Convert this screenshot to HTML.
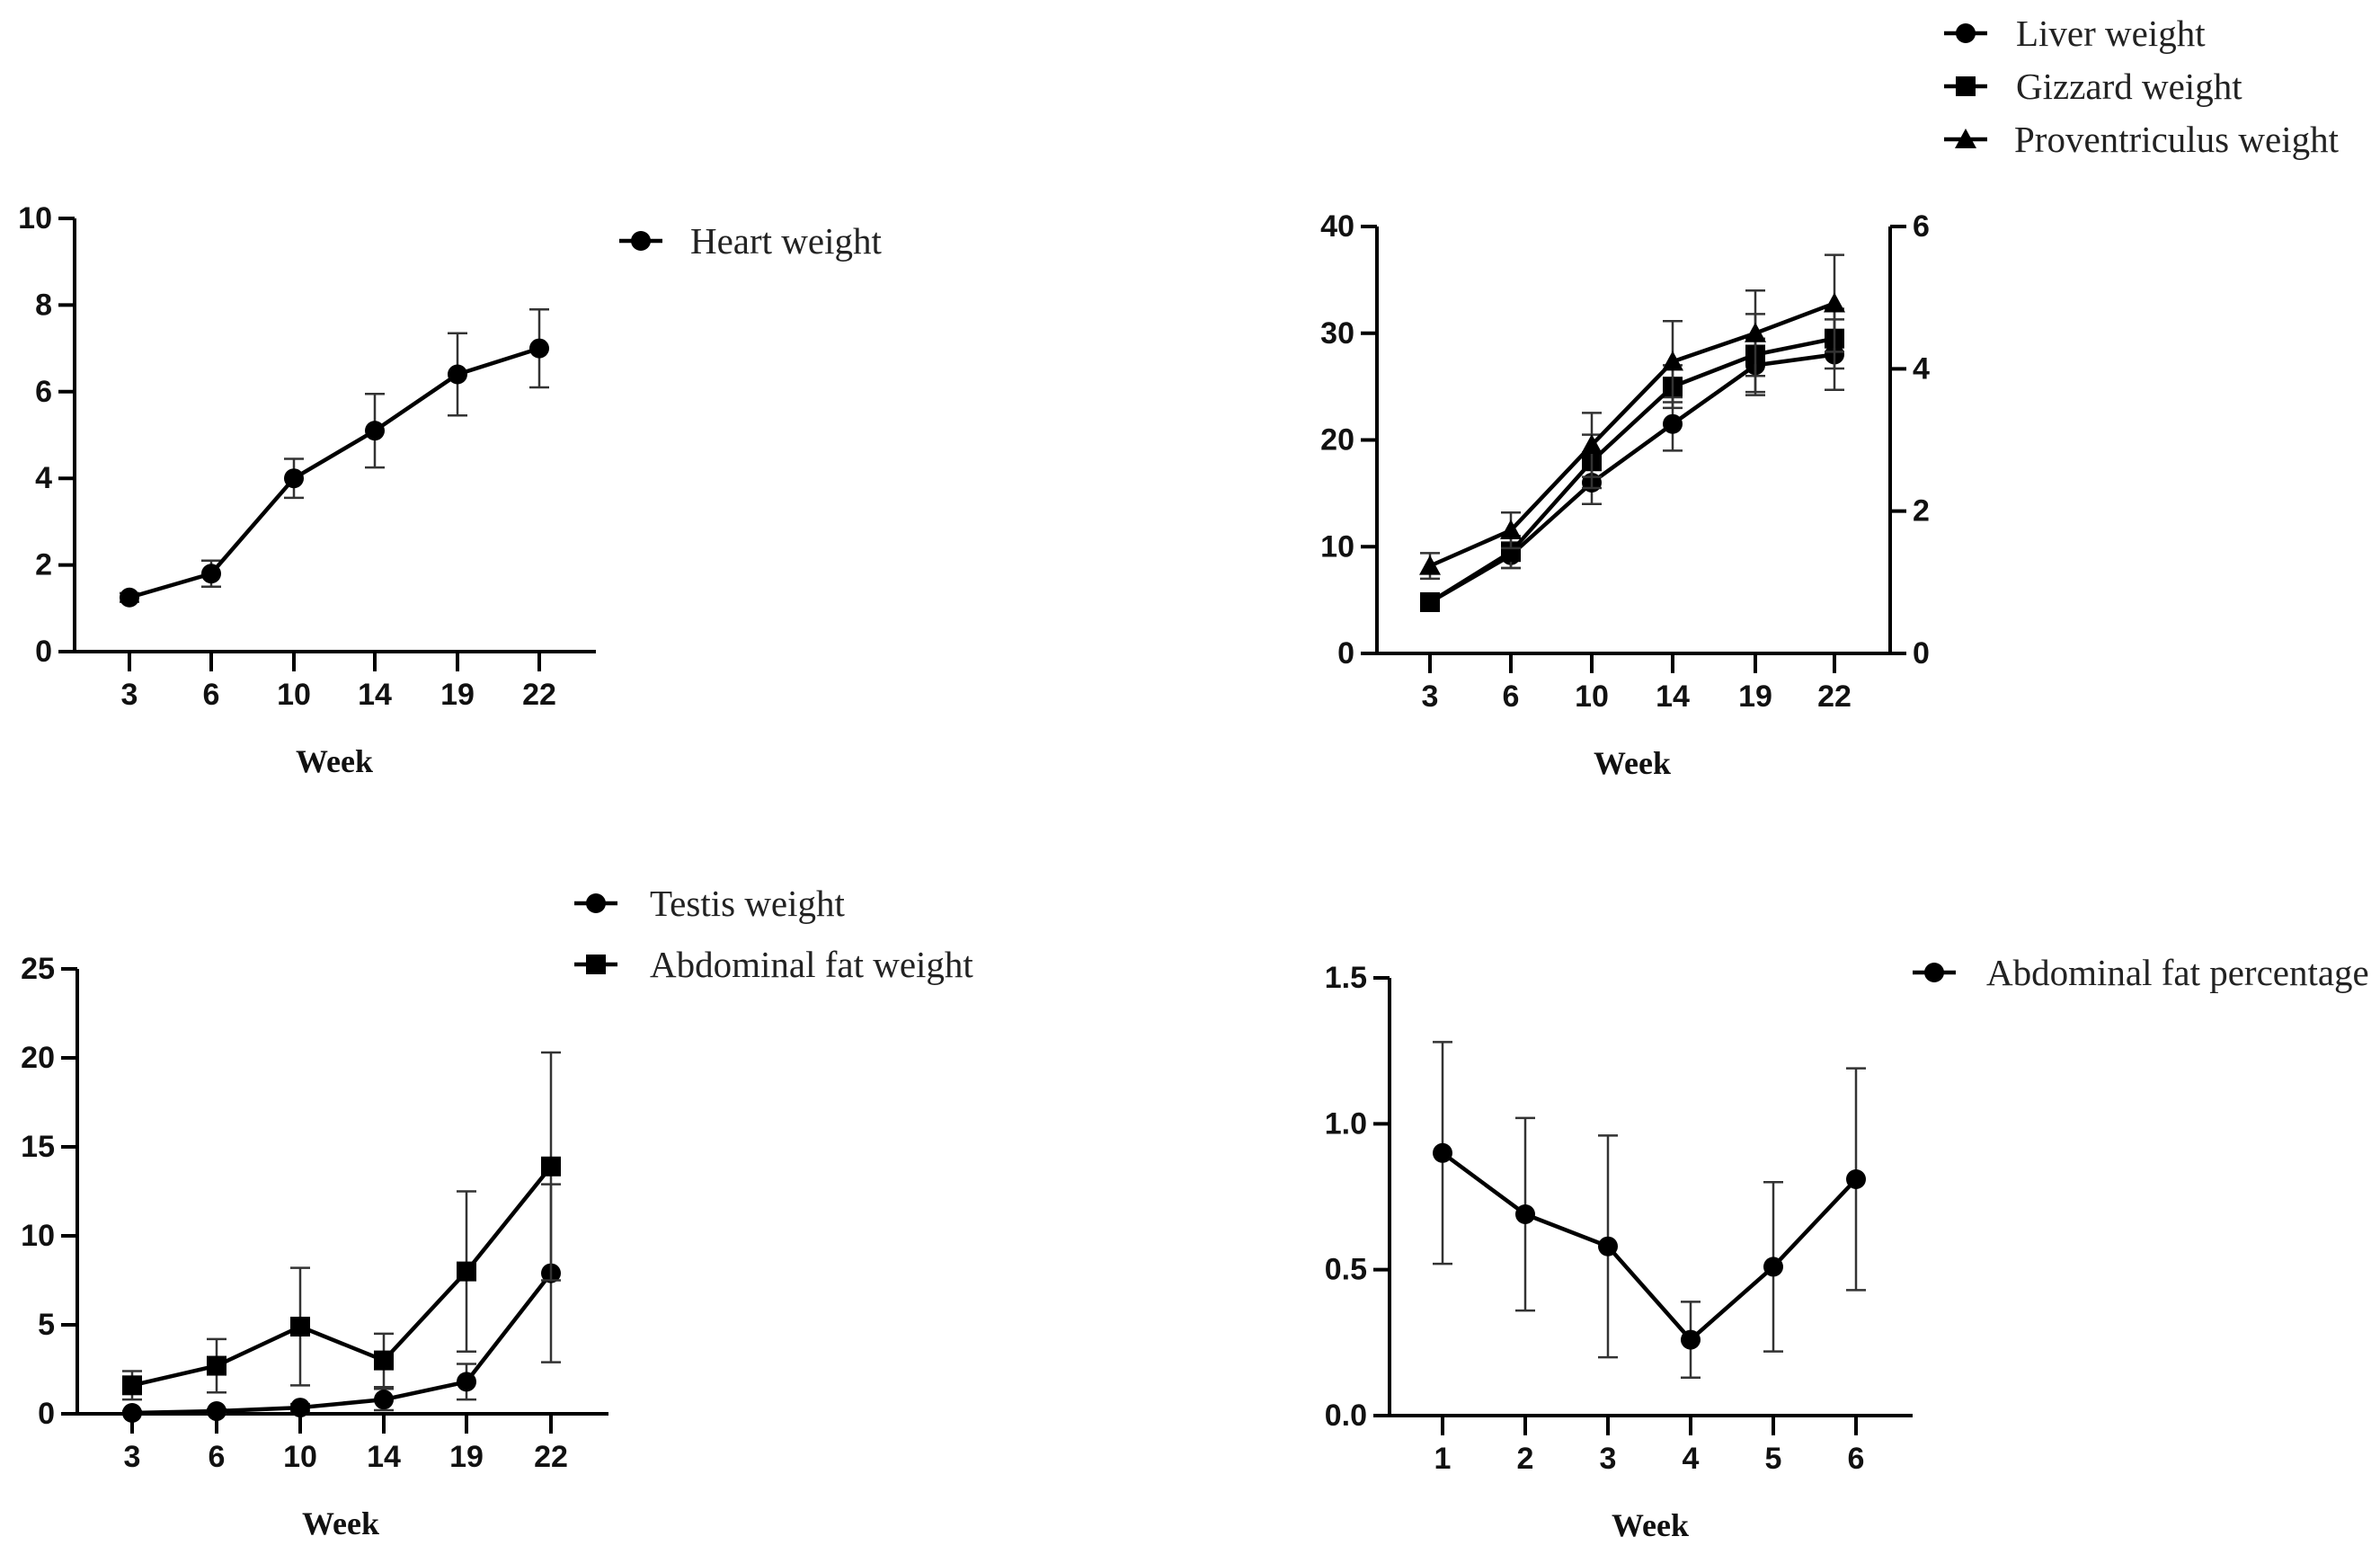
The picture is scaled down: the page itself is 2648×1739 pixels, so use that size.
<!DOCTYPE html>
<html><head><meta charset="utf-8"><style>
html,body{margin:0;padding:0;background:#fff;}
svg{display:block;}
.tk{font-family:"Liberation Sans",Arial,sans-serif;font-weight:bold;font-size:34px;fill:#111;}
.wk{font-family:"Liberation Serif",serif;font-weight:bold;font-size:36px;fill:#111;}
.lg{font-family:"Liberation Serif",serif;font-size:41px;fill:#222;}
</style></head><body>
<svg id="fig" width="2648" height="1739" viewBox="0 0 2648 1739" xmlns="http://www.w3.org/2000/svg"></svg>
<script>
// ---- data ----
const weeksA = ["3","6","10","14","19","22"];
const weeksB = ["1","2","3","4","5","6"];
const heartVals = [1.25,1.8,4.0,5.1,6.4,7.0];
const heartErr = [0.1,0.3,0.45,0.85,0.95,0.9];
const liverVals = [4.8,9.2,16,21.5,27,28];
const liverErr = [0.5,1.2,2,2.5,2.5,3.3];
const gizzardVals = [4.8,9.5,18,25,28,29.5];
const gizzardErr = [0.5,1.5,2.5,2,3.8,2.8];
const provVals = [1.23,1.73,2.93,4.1,4.5,4.92];
const provErr = [0.18,0.25,0.45,0.57,0.6,0.68];
const testisVals = [0.05,0.15,0.35,0.8,1.8,7.9];
const testisErr = [0.1,0.1,0.2,0.6,1.0,5.0];
const fatVals = [1.6,2.7,4.9,3.0,8.0,13.9];
const fatErr = [0.8,1.5,3.3,1.5,4.5,6.4];
const pctVals = [0.9,0.69,0.58,0.26,0.51,0.81];
const pctErr = [0.38,0.33,0.38,0.13,0.29,0.38];
const ticks1 = [0,2,4,6,8,10];
const ticks2 = [0,10,20,30,40];
const ticks2r = [0,2,4,6];
const ticks3 = [0,5,10,15,20,25];
const ticks4 = ["0.0","0.5","1.0","1.5"];

const NS="http://www.w3.org/2000/svg";
const svg=document.getElementById('fig');
function mk(tag,attrs,parent){const e=document.createElementNS(NS,tag);for(const k in attrs)e.setAttribute(k,attrs[k]);(parent||svg).appendChild(e);return e;}
function txt(s,x,y,cls,anchor,parent){const t=mk('text',{x:x,y:y,'class':cls,'text-anchor':anchor||'middle','dominant-baseline':'central'},parent);t.textContent=s;return t;}
function marker(kind,x,y,g){
  let m;
  if(kind==='circle'){m=mk('circle',{cx:x,cy:y,r:11,fill:'#000'},g);}
  else if(kind==='square'){m=mk('rect',{x:x-11,y:y-11,width:22,height:22,fill:'#000'},g);}
  else {m=mk('polygon',{points:`${x},${y-12} ${x-12},${y+10} ${x+12},${y+10}`,fill:'#000'},g);}
  return m;
}
function chart(cfg){
  const g=mk('g',{});
  
  
  const xs=cfg.xpos, y=v=>cfg.y0-(v-cfg.ymin)/(cfg.ymax-cfg.ymin)*(cfg.y0-cfg.ytop);
  const ax=mk('line',{x1:cfg.ax,y1:cfg.ytop,x2:cfg.ax,y2:cfg.y0+2,stroke:'#000','stroke-width':4},g);
  
  
  const bx=mk('line',{x1:cfg.ax-18,y1:cfg.y0,x2:cfg.xend,y2:cfg.y0,stroke:'#000','stroke-width':4},g);
  
  
  cfg.yticks.forEach(t=>{const v=parseFloat(t);const yy=y(v);
    if(yy!==cfg.y0) mk('line',{x1:cfg.ax-18,y1:yy,x2:cfg.ax,y2:yy,stroke:'#000','stroke-width':4},g);
    const l=txt(String(t),cfg.ax-25,yy,'tk','end',g);
    
    });
  if(cfg.right){const r=cfg.right;const yr=v=>cfg.y0-v/r.max*(cfg.y0-cfg.ytop);
    const ra=mk('line',{x1:r.x,y1:cfg.ytop,x2:r.x,y2:cfg.y0+2,stroke:'#000','stroke-width':4},g);
    
    
    r.ticks.forEach(t=>{const yy=yr(t);mk('line',{x1:r.x,y1:yy,x2:r.x+18,y2:yy,stroke:'#000','stroke-width':4},g);
      const l=txt(String(t),r.x+25,yy,'tk','start',g);
      
      });}
  cfg.cats.forEach((c,i)=>{mk('line',{x1:xs[i],y1:cfg.y0,x2:xs[i],y2:cfg.y0+22,stroke:'#000','stroke-width':4},g);
    const l=txt(c,xs[i],cfg.y0+48,'tk','middle',g);
    
    });
  const w=txt('Week',cfg.weekX,cfg.y0+122,'wk','middle',g);
  
  
  cfg.series.forEach(s=>{
    const sy=s.right?(v=>cfg.y0-v/cfg.right.max*(cfg.y0-cfg.ytop)):y;
    const sg=mk('g',{},g);
    
    
    s.err.forEach((e,i)=>{const x=xs[i],a=sy(s.vals[i]+e),b=sy(Math.max(s.vals[i]-e,cfg.ymin));
      mk('line',{x1:x,y1:a,x2:x,y2:b,stroke:'#333','stroke-width':2.5},sg);
      mk('line',{x1:x-11,y1:a,x2:x+11,y2:a,stroke:'#333','stroke-width':2.5},sg);
      mk('line',{x1:x-11,y1:b,x2:x+11,y2:b,stroke:'#333','stroke-width':2.5},sg);});
    mk('polyline',{points:s.vals.map((v,i)=>xs[i]+','+sy(v)).join(' '),fill:'none',stroke:'#000','stroke-width':4.5,'stroke-linejoin':'round'},sg);
    s.vals.forEach((v,i)=>{const m=marker(s.marker,xs[i],sy(v),sg);
      
      });
  });
  cfg.legend.forEach(L=>{const lg=mk('g',{},g);
    
    
    mk('line',{x1:L.mx-24,y1:L.y,x2:L.mx+24,y2:L.y,stroke:'#000','stroke-width':4.5},lg);
    marker(L.marker,L.mx,L.y,lg);
    txt(L.text,L.tx,L.y,'lg','start',lg);});
}
chart({name:'heart-weight-chart',ax:83,ytop:243,y0:725,ymin:0,ymax:10,xend:663,
  xpos:[144,235,327,417,509,600],cats:weeksA,yticks:ticks1,weekX:372,
  series:[{name:'heart-series',vals:heartVals,err:heartErr,marker:'circle'}],
  legend:[{mx:713,y:268,marker:'circle',text:'Heart weight',tx:768}]});
chart({name:'organ-weight-chart',ax:1532,ytop:252,y0:727,ymin:0,ymax:40,xend:2103,
  xpos:[1591,1681,1771,1861,1953,2041],cats:weeksA,yticks:ticks2,weekX:1816,
  right:{x:2103,max:6,ticks:ticks2r},
  series:[{name:'liver-series',vals:liverVals,err:liverErr,marker:'circle'},
          {name:'gizzard-series',vals:gizzardVals,err:gizzardErr,marker:'square'},
          {name:'proventriculus-series',vals:provVals,err:provErr,marker:'triangle',right:true}],
  legend:[{mx:2187,y:37,marker:'circle',text:'Liver weight',tx:2243},
          {mx:2187,y:96,marker:'square',text:'Gizzard weight',tx:2243},
          {mx:2187,y:155,marker:'triangle',text:'Proventriculus weight',tx:2241}]});
chart({name:'testis-fat-chart',ax:86,ytop:1078,y0:1573,ymin:0,ymax:25,xend:677,
  xpos:[147,241,334,427,519,613],cats:weeksA,yticks:ticks3,weekX:379,
  series:[{name:'testis-series',vals:testisVals,err:testisErr,marker:'circle'},
          {name:'abdominal-fat-series',vals:fatVals,err:fatErr,marker:'square'}],
  legend:[{mx:663,y:1005,marker:'circle',text:'Testis  weight',tx:723},
          {mx:663,y:1073,marker:'square',text:'Abdominal fat weight',tx:723}]});
chart({name:'fat-percentage-chart',ax:1546,ytop:1088,y0:1575,ymin:0,ymax:1.5,xend:2128,
  xpos:[1605,1697,1789,1881,1973,2065],cats:weeksB,yticks:ticks4,weekX:1836,
  series:[{name:'fat-percentage-series',vals:pctVals,err:pctErr,marker:'circle'}],
  legend:[{mx:2152,y:1082,marker:'circle',text:'Abdominal fat percentage',tx:2210}]});
</script>
</body></html>
